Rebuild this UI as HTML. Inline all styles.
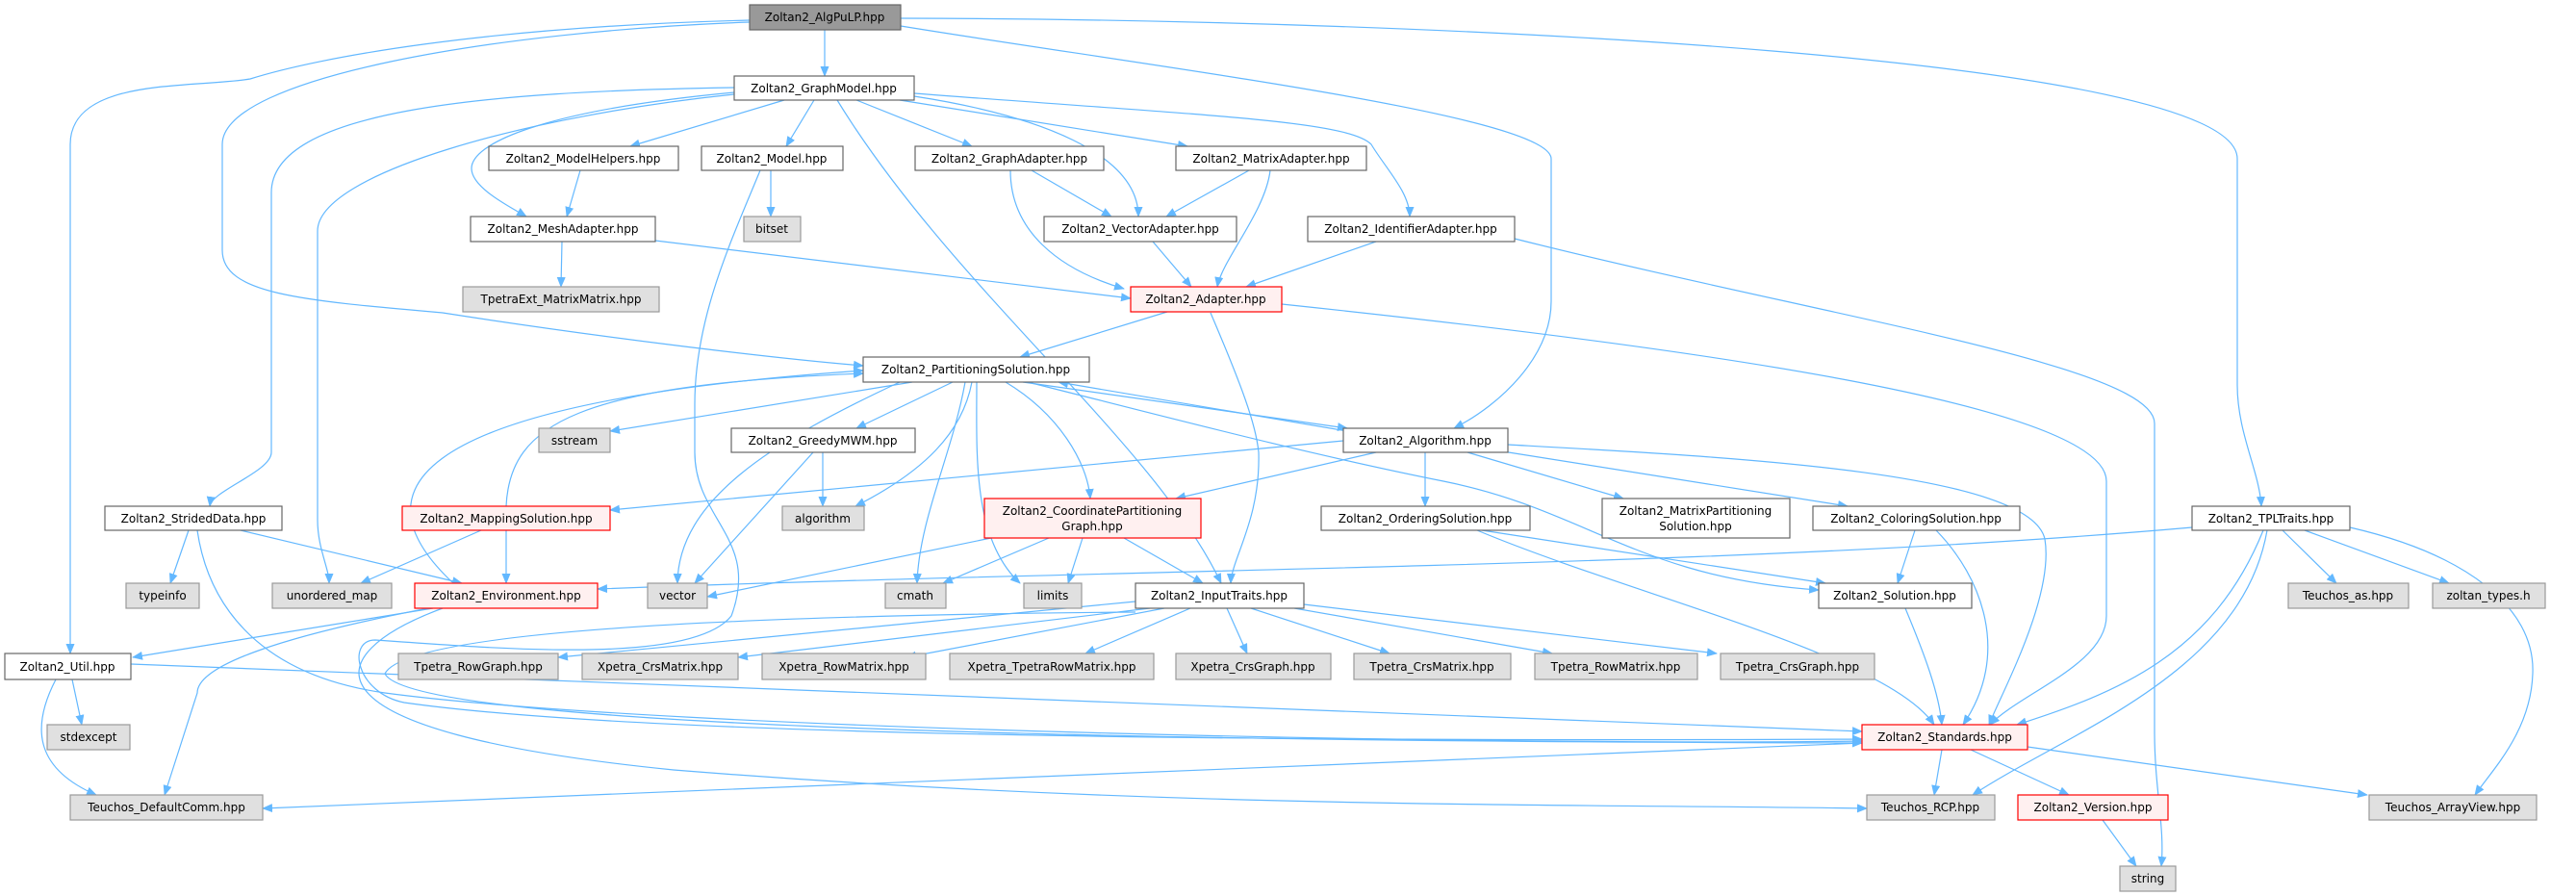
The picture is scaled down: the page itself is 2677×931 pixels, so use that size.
<!DOCTYPE html>
<html><head><meta charset="utf-8"><style>
html,body{margin:0;padding:0;background:#fff;}
svg{display:block;}
text{font-family:"DejaVu Sans","Liberation Sans",sans-serif;font-size:12px;fill:#000;text-anchor:middle;}
.w{fill:#fff;stroke:#666;stroke-width:1.2;}
.g{fill:#e0e0e0;stroke:#999;stroke-width:1.2;}
.r{fill:#fff0f0;stroke:#f00;stroke-width:1.2;}
.d{fill:#999;stroke:#666;stroke-width:1.2;}
path.e{fill:none;stroke:#63b8ff;stroke-width:1.2;marker-end:url(#a);}
</style></head><body>
<svg width="2677" height="931" viewBox="0 0 2677 931" xmlns="http://www.w3.org/2000/svg">
<defs><marker id="a" markerUnits="userSpaceOnUse" markerWidth="11" markerHeight="9" refX="10" refY="4.5" orient="auto"><path d="M0,0 L11,4.5 L0,9 z" fill="#63b8ff"/></marker></defs>
<g>
<path class="e" d="M857,31 L857,79"/>
<path class="e" d="M779,21 C500,28 330,60 260,82 C200,92 73,80 73,150 L73,679"/>
<path class="e" d="M779,23 C520,32 231,80 231,150 L231,260 C231,305 310,312 460,325 C620,350 800,372 897,380"/>
<path class="e" d="M936,27 C1200,70 1612,120 1612,165 L1612,313 C1612,370 1560,420 1511,445"/>
<path class="e" d="M936,19 C1500,20 2325,60 2325,165 L2325,400 C2325,450 2348,490 2350,526"/>
<path class="e" d="M815,104 L655,152"/>
<path class="e" d="M846,104 L817,152"/>
<path class="e" d="M890,104 L1010,152"/>
<path class="e" d="M935,104 L1234,152"/>
<path class="e" d="M763,96 C560,115 490,150 490,175 C490,195 530,215 547,225"/>
<path class="e" d="M950,100 C1080,120 1183,160 1183,225"/>
<path class="e" d="M950,97 C1250,120 1400,125 1425,150 C1440,175 1465,200 1465,225"/>
<path class="e" d="M870,104 C990,300 1200,460 1269,606"/>
<path class="e" d="M763,91 C500,95 282,115 282,200 L282,470 C282,490 220,510 218,526"/>
<path class="e" d="M763,98 C550,120 330,180 330,240 L330,540 C330,570 342,590 342,606"/>
<path class="e" d="M801,177 L801,225"/>
<path class="e" d="M790,177 C760,250 722,330 722,420 L722,470 C722,540 790,560 760,640 C720,690 530,675 390,665 C360,665 370,720 420,730 C700,770 1500,770 1935,768"/>
<path class="e" d="M603,177 L589,225"/>
<path class="e" d="M1072,177 L1155,225"/>
<path class="e" d="M1050,177 C1050,240 1100,280 1168,300"/>
<path class="e" d="M1298,177 L1212,225"/>
<path class="e" d="M1320,177 C1315,220 1270,270 1265,298"/>
<path class="e" d="M1198,251 L1238,298"/>
<path class="e" d="M1430,251 L1295,298"/>
<path class="e" d="M1574,248 C1900,330 2239,380 2239,440 L2239,760 C2239,820 2250,860 2246,900"/>
<path class="e" d="M584,251 L583,298"/>
<path class="e" d="M681,250 L1175,310"/>
<path class="e" d="M1213,324 L1060,371"/>
<path class="e" d="M1258,325 C1290,400 1305,440 1308,470 C1310,540 1280,580 1279,606"/>
<path class="e" d="M1332,316 C1750,360 2189,420 2189,500 L2189,640 C2189,690 2100,720 2068,753"/>
<path class="e" d="M948,397 L634,448"/>
<path class="e" d="M990,397 L890,445"/>
<path class="e" d="M1063,397 L1400,445"/>
<path class="e" d="M1400,448 L1100,397"/>
<path class="e" d="M1010,397 C1000,450 960,490 889,526"/>
<path class="e" d="M1045,397 C1100,430 1130,480 1133,518"/>
<path class="e" d="M935,397 C800,460 705,520 704,606"/>
<path class="e" d="M1003,397 C990,470 955,540 953,606"/>
<path class="e" d="M1015,397 C1015,470 1010,560 1060,606"/>
<path class="e" d="M1068,397 C1200,430 1350,470 1500,500 C1650,530 1700,600 1890,613"/>
<path class="e" d="M470,605 C380,520 390,420 897,385"/>
<path class="e" d="M526,526 C530,440 600,400 897,388"/>
<path class="e" d="M1396,458 L634,530"/>
<path class="e" d="M1430,470 L1222,518"/>
<path class="e" d="M1481,470 L1481,526"/>
<path class="e" d="M1525,470 L1687,518"/>
<path class="e" d="M1555,468 L1920,526"/>
<path class="e" d="M1567,462 C1800,475 2109,490 2125,560 C2135,620 2080,720 2067,753"/>
<path class="e" d="M500,551 L375,606"/>
<path class="e" d="M526,551 L526,606"/>
<path class="e" d="M196,551 L177,606"/>
<path class="e" d="M250,551 L480,606"/>
<path class="e" d="M205,551 C215,620 260,700 400,720 C700,760 1600,775 1935,770"/>
<path class="e" d="M855,470 L855,526"/>
<path class="e" d="M845,470 L722,606"/>
<path class="e" d="M1030,559 L735,620"/>
<path class="e" d="M1090,559 L980,606"/>
<path class="e" d="M1125,559 L1110,606"/>
<path class="e" d="M1168,559 L1250,606"/>
<path class="e" d="M1540,551 L1897,606"/>
<path class="e" d="M1535,551 C1700,620 1960,680 2010,753"/>
<path class="e" d="M1990,551 L1972,606"/>
<path class="e" d="M2012,551 C2060,600 2090,680 2040,753"/>
<path class="e" d="M1980,632 C2000,680 2015,720 2018,753"/>
<path class="e" d="M2278,548 C1800,590 1200,590 621,612"/>
<path class="e" d="M2372,551 L2428,606"/>
<path class="e" d="M2395,551 L2545,606"/>
<path class="e" d="M2442,548 C2560,575 2635,630 2632,700 C2630,760 2590,800 2572,826"/>
<path class="e" d="M2352,551 C2300,680 2200,720 2096,753"/>
<path class="e" d="M2356,551 C2330,700 2150,760 2050,826"/>
<path class="e" d="M450,632 L138,683"/>
<path class="e" d="M445,632 C300,660 205,690 205,720 L171,826"/>
<path class="e" d="M460,632 C330,680 300,760 700,800 C1200,840 1600,835 1940,840"/>
<path class="e" d="M1180,625 L580,683"/>
<path class="e" d="M1195,632 L767,683"/>
<path class="e" d="M1210,632 L942,683"/>
<path class="e" d="M1237,632 L1128,679"/>
<path class="e" d="M1275,632 L1296,679"/>
<path class="e" d="M1300,632 L1444,679"/>
<path class="e" d="M1345,632 L1613,679"/>
<path class="e" d="M1355,628 L1784,679"/>
<path class="e" d="M1180,636 C700,640 420,660 400,700 C420,740 800,770 1935,772"/>
<path class="e" d="M75,706 L85,753"/>
<path class="e" d="M58,706 C30,760 40,800 100,826"/>
<path class="e" d="M136,690 L1935,760"/>
<path class="e" d="M1935,772 L273,840"/>
<path class="e" d="M2018,779 L2010,826"/>
<path class="e" d="M2048,779 L2150,826"/>
<path class="e" d="M2107,776 L2460,826"/>
<path class="e" d="M2185,852 L2220,900"/>
</g>
<g>
<rect class="d" x="779" y="5" width="157" height="26"/><text x="857" y="22">Zoltan2_AlgPuLP.hpp</text>
<rect class="w" x="763" y="79" width="187" height="25"/><text x="856" y="96">Zoltan2_GraphModel.hpp</text>
<rect class="w" x="508" y="152" width="197" height="25"/><text x="606" y="169">Zoltan2_ModelHelpers.hpp</text>
<rect class="w" x="729" y="152" width="147" height="25"/><text x="802" y="169">Zoltan2_Model.hpp</text>
<rect class="w" x="951" y="152" width="196" height="25"/><text x="1049" y="169">Zoltan2_GraphAdapter.hpp</text>
<rect class="w" x="1222" y="152" width="198" height="25"/><text x="1321" y="169">Zoltan2_MatrixAdapter.hpp</text>
<rect class="w" x="489" y="225" width="192" height="26"/><text x="585" y="242">Zoltan2_MeshAdapter.hpp</text>
<rect class="g" x="773" y="225" width="59" height="26"/><text x="802" y="242">bitset</text>
<rect class="w" x="1085" y="225" width="200" height="26"/><text x="1185" y="242">Zoltan2_VectorAdapter.hpp</text>
<rect class="w" x="1359" y="225" width="215" height="26"/><text x="1466" y="242">Zoltan2_IdentifierAdapter.hpp</text>
<rect class="g" x="481" y="298" width="204" height="26"/><text x="583" y="315">TpetraExt_MatrixMatrix.hpp</text>
<rect class="r" x="1175" y="298" width="157" height="26"/><text x="1253" y="315">Zoltan2_Adapter.hpp</text>
<rect class="w" x="897" y="371" width="235" height="26"/><text x="1014" y="388">Zoltan2_PartitioningSolution.hpp</text>
<rect class="g" x="560" y="445" width="74" height="25"/><text x="597" y="462">sstream</text>
<rect class="w" x="760" y="445" width="191" height="25"/><text x="855" y="462">Zoltan2_GreedyMWM.hpp</text>
<rect class="w" x="1396" y="445" width="171" height="25"/><text x="1481" y="462">Zoltan2_Algorithm.hpp</text>
<rect class="w" x="109" y="526" width="184" height="25"/><text x="201" y="543">Zoltan2_StridedData.hpp</text>
<rect class="r" x="418" y="526" width="216" height="25"/><text x="526" y="543">Zoltan2_MappingSolution.hpp</text>
<rect class="g" x="813" y="526" width="85" height="25"/><text x="855" y="543">algorithm</text>
<rect class="r" x="1023" y="518" width="225" height="41"/><text x="1135" y="535">Zoltan2_CoordinatePartitioning</text><text x="1135" y="551">Graph.hpp</text>
<rect class="w" x="1373" y="526" width="217" height="25"/><text x="1481" y="543">Zoltan2_OrderingSolution.hpp</text>
<rect class="w" x="1665" y="518" width="195" height="41"/><text x="1762" y="535">Zoltan2_MatrixPartitioning</text><text x="1762" y="551">Solution.hpp</text>
<rect class="w" x="1884" y="526" width="215" height="25"/><text x="1991" y="543">Zoltan2_ColoringSolution.hpp</text>
<rect class="w" x="2278" y="526" width="164" height="25"/><text x="2360" y="543">Zoltan2_TPLTraits.hpp</text>
<rect class="g" x="131" y="606" width="76" height="26"/><text x="169" y="623">typeinfo</text>
<rect class="g" x="283" y="606" width="124" height="26"/><text x="345" y="623">unordered_map</text>
<rect class="r" x="431" y="606" width="190" height="26"/><text x="526" y="623">Zoltan2_Environment.hpp</text>
<rect class="g" x="673" y="606" width="62" height="26"/><text x="704" y="623">vector</text>
<rect class="g" x="920" y="606" width="63" height="26"/><text x="951" y="623">cmath</text>
<rect class="g" x="1064" y="606" width="60" height="26"/><text x="1094" y="623">limits</text>
<rect class="w" x="1180" y="606" width="175" height="26"/><text x="1267" y="623">Zoltan2_InputTraits.hpp</text>
<rect class="w" x="1890" y="606" width="159" height="26"/><text x="1969" y="623">Zoltan2_Solution.hpp</text>
<rect class="g" x="2378" y="606" width="125" height="26"/><text x="2440" y="623">Teuchos_as.hpp</text>
<rect class="g" x="2528" y="606" width="117" height="26"/><text x="2586" y="623">zoltan_types.h</text>
<rect class="w" x="5" y="679" width="131" height="27"/><text x="70" y="697">Zoltan2_Util.hpp</text>
<rect class="g" x="414" y="679" width="166" height="27"/><text x="497" y="697">Tpetra_RowGraph.hpp</text>
<rect class="g" x="605" y="679" width="162" height="27"/><text x="686" y="697">Xpetra_CrsMatrix.hpp</text>
<rect class="g" x="792" y="679" width="170" height="27"/><text x="877" y="697">Xpetra_RowMatrix.hpp</text>
<rect class="g" x="987" y="679" width="212" height="27"/><text x="1093" y="697">Xpetra_TpetraRowMatrix.hpp</text>
<rect class="g" x="1222" y="679" width="161" height="27"/><text x="1302" y="697">Xpetra_CrsGraph.hpp</text>
<rect class="g" x="1407" y="679" width="163" height="27"/><text x="1488" y="697">Tpetra_CrsMatrix.hpp</text>
<rect class="g" x="1595" y="679" width="169" height="27"/><text x="1679" y="697">Tpetra_RowMatrix.hpp</text>
<rect class="g" x="1788" y="679" width="160" height="27"/><text x="1868" y="697">Tpetra_CrsGraph.hpp</text>
<rect class="g" x="49" y="753" width="86" height="26"/><text x="92" y="770">stdexcept</text>
<rect class="r" x="1935" y="753" width="172" height="26"/><text x="2021" y="770">Zoltan2_Standards.hpp</text>
<rect class="g" x="73" y="826" width="200" height="26"/><text x="173" y="843">Teuchos_DefaultComm.hpp</text>
<rect class="g" x="1940" y="826" width="133" height="26"/><text x="2006" y="843">Teuchos_RCP.hpp</text>
<rect class="r" x="2097" y="826" width="156" height="26"/><text x="2175" y="843">Zoltan2_Version.hpp</text>
<rect class="g" x="2462" y="826" width="174" height="26"/><text x="2549" y="843">Teuchos_ArrayView.hpp</text>
<rect class="g" x="2203" y="900" width="58" height="26"/><text x="2232" y="917">string</text>
</g>
</svg>
</body></html>
